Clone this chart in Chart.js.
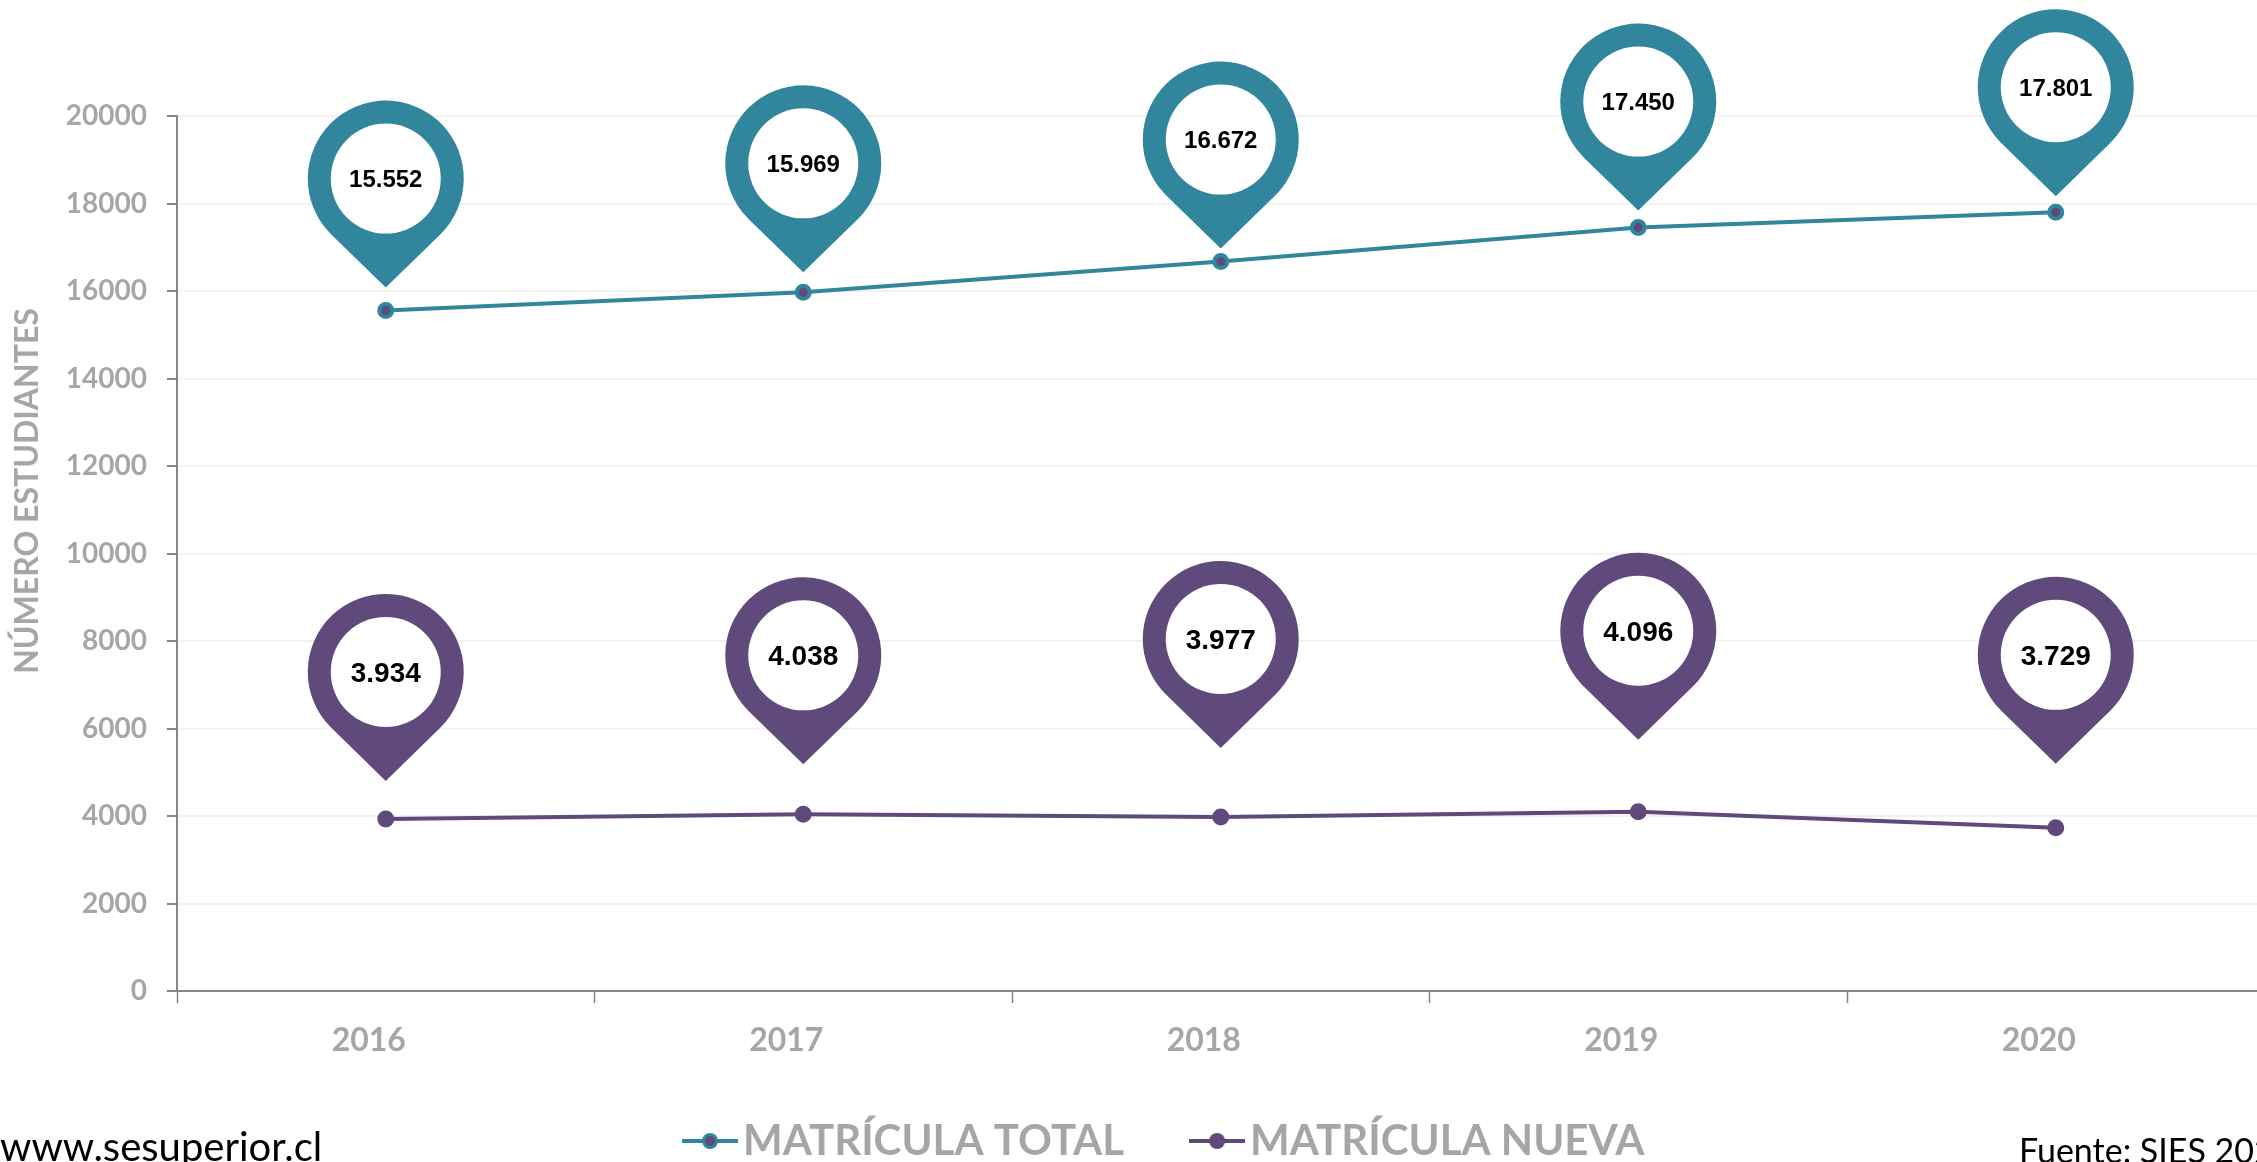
<!DOCTYPE html>
<html>
<head>
<meta charset="utf-8">
<title>Matrícula</title>
<style>
  html, body { margin: 0; padding: 0; background: #fff; overflow: hidden; }
  #wrap { width: 2257px; height: 1162px; overflow: hidden; position: relative; }
  canvas { display: block; }
</style>
</head>
<body>
<div id="wrap"><canvas id="chart" width="2300" height="1172"></canvas></div>
<script src="https://cdn.jsdelivr.net/npm/chart.js@4/dist/chart.umd.min.js"></script>
<script>
const years = ['2016', '2017', '2018', '2019', '2020'];
const matriculaTotal = [15552, 15969, 16672, 17450, 17801];
const matriculaNueva = [3934, 4038, 3977, 4096, 3729];

const TEAL = '#31859c';
const PURPLE = '#604a7b';
const GREY_TEXT = '#a6a6a6';
const AXIS = '#868686';

// gap in px between each pin tip and its point
const tealPinGap = [23, 20, 13, 17, 16];
const purplePinGap = [38, 50, 69, 72, 64];

const thousands = v => String(v).replace(/\B(?=(\d{3})+$)/g, '.');

// legend marker: short line with a dot over it
const legendMarker = (line, dot) => {
    const c = document.createElement('canvas');
    c.width = 56;
    c.height = 24;
    const g = c.getContext('2d');
    g.fillStyle = line;
    g.fillRect(0, 10, 56, 4);
    g.beginPath();
    g.arc(28, 12, 8, 0, Math.PI * 2);
    g.fill();
    g.fillStyle = dot;
    g.beginPath();
    g.arc(28, 12, 5, 0, Math.PI * 2);
    g.fill();
    return c;
};

const drawPin = (ctx, x, tipY, color, text, fontSize) => {
    const r = 78, inner = 55, h = 109;
    const cy = tipY - h;
    const a = Math.acos(r / h);
    ctx.fillStyle = color;
    ctx.beginPath();
    ctx.moveTo(x, tipY);
    ctx.arc(x, cy, r, Math.PI / 2 - a, Math.PI / 2 + a, true);
    ctx.closePath();
    ctx.fill();
    ctx.fillStyle = '#fff';
    ctx.beginPath();
    ctx.arc(x, cy, inner, 0, Math.PI * 2);
    ctx.fill();
    ctx.fillStyle = '#000';
    ctx.font = `bold ${fontSize}px "Liberation Sans"`;
    ctx.textAlign = 'center';
    ctx.textBaseline = 'middle';
    ctx.fillText(text, x, cy + 2);
};

const pinsPlugin = {
    id: 'pins',
    afterLayout(chart) {
        // year labels hang below the thin x box, so stretch it or they get clipped
        chart.scales.x.bottom = chart.height;
        // legend sits right of the plot centre
        chart.legend.left += 39;
        chart.legend.right += 39;
    },
    afterDatasetsDraw(chart) {
        const { ctx, scales } = chart;
        ctx.save();
        years.forEach((year, i) => {
            const x = scales.x.getPixelForValue(i);
            drawPin(ctx, x, scales.y.getPixelForValue(matriculaTotal[i]) - tealPinGap[i], TEAL, thousands(matriculaTotal[i]), 24);
            drawPin(ctx, x, scales.y.getPixelForValue(matriculaNueva[i]) - purplePinGap[i], PURPLE, thousands(matriculaNueva[i]), 28);
        });
        ctx.restore();
    }
};

const textPlugin = {
    id: 'extraText',
    afterDraw(chart) {
        const { ctx } = chart;
        ctx.save();
        ctx.textBaseline = 'alphabetic';
        ctx.textAlign = 'left';
        ctx.fillStyle = '#000';
        ctx.font = '40px Lato';
        ctx.fillText('www.sesuperior.cl', 0, 1161);
        ctx.font = '34px Lato';
        ctx.fillText('Fuente: SIES 2020', 2019, 1163);

        ctx.translate(28, 491);
        ctx.rotate(-Math.PI / 2);
        ctx.textAlign = 'center';
        ctx.textBaseline = 'middle';
        ctx.fillStyle = GREY_TEXT;
        ctx.font = 'bold 32px Lato';
        ctx.fillText('NÚMERO ESTUDIANTES', 0, 0);
        ctx.restore();
    }
};

new Chart(document.getElementById('chart'), {
    type: 'line',
    data: {
        labels: years,
        datasets: [
            {
                label: 'MATRÍCULA TOTAL',
                data: matriculaTotal,
                borderColor: TEAL,
                backgroundColor: PURPLE,
                borderWidth: 4,
                tension: 0,
                pointRadius: 6.5,
                pointBorderWidth: 4,
                pointBorderColor: TEAL,
                pointBackgroundColor: PURPLE,
                pointStyle: 'circle'
            },
            {
                label: 'MATRÍCULA NUEVA',
                data: matriculaNueva,
                borderColor: PURPLE,
                backgroundColor: PURPLE,
                borderWidth: 4,
                tension: 0,
                pointRadius: 6.5,
                pointBorderWidth: 4,
                pointBorderColor: PURPLE,
                pointBackgroundColor: PURPLE,
                pointStyle: 'circle'
            }
        ]
    },
    options: {
        responsive: false,
        animation: false,
        layout: { padding: { top: 116, right: 35.5, left: 0, bottom: 0 } },
        plugins: {
            tooltip: { enabled: false },
            legend: {
                position: 'bottom',
                labels: {
                    usePointStyle: true,
                    pointStyleWidth: 24,
                    padding: 81,
                    color: GREY_TEXT,
                    font: { family: 'Lato', weight: 'bold', size: 42 },
                    generateLabels: chart => chart.data.datasets.map((d, i) => ({
                        text: d.label,
                        datasetIndex: i,
                        fontColor: GREY_TEXT,
                        pointStyle: legendMarker(d.borderColor, d.pointBackgroundColor)
                    }))
                }
            }
        },
        scales: {
            x: {
                offset: true,
                afterFit: s => { s.height = 48; },
                border: { color: AXIS, width: 2 },
                grid: {
                    offset: true,
                    drawOnChartArea: false,
                    drawTicks: true,
                    tickLength: 12,
                    tickColor: AXIS,
                    tickWidth: 1.5
                },
                ticks: {
                    color: GREY_TEXT,
                    padding: 18,
                    labelOffset: -17,
                    maxRotation: 0,
                    font: { family: 'Lato', weight: 'bold', size: 32 }
                }
            },
            y: {
                min: 0,
                max: 20000,
                afterFit: s => { s.width = 177; },
                border: { color: AXIS, width: 2 },
                grid: {
                    color: '#f2f2f2',
                    lineWidth: 2,
                    tickLength: 10,
                    tickColor: AXIS,
                    tickWidth: 2
                },
                ticks: {
                    stepSize: 2000,
                    color: GREY_TEXT,
                    padding: 20,
                    callback: v => String(v),
                    font: { family: 'Lato', weight: 'bold', size: 28 }
                }
            }
        }
    },
    plugins: [pinsPlugin, textPlugin]
});
</script>
</body>
</html>
